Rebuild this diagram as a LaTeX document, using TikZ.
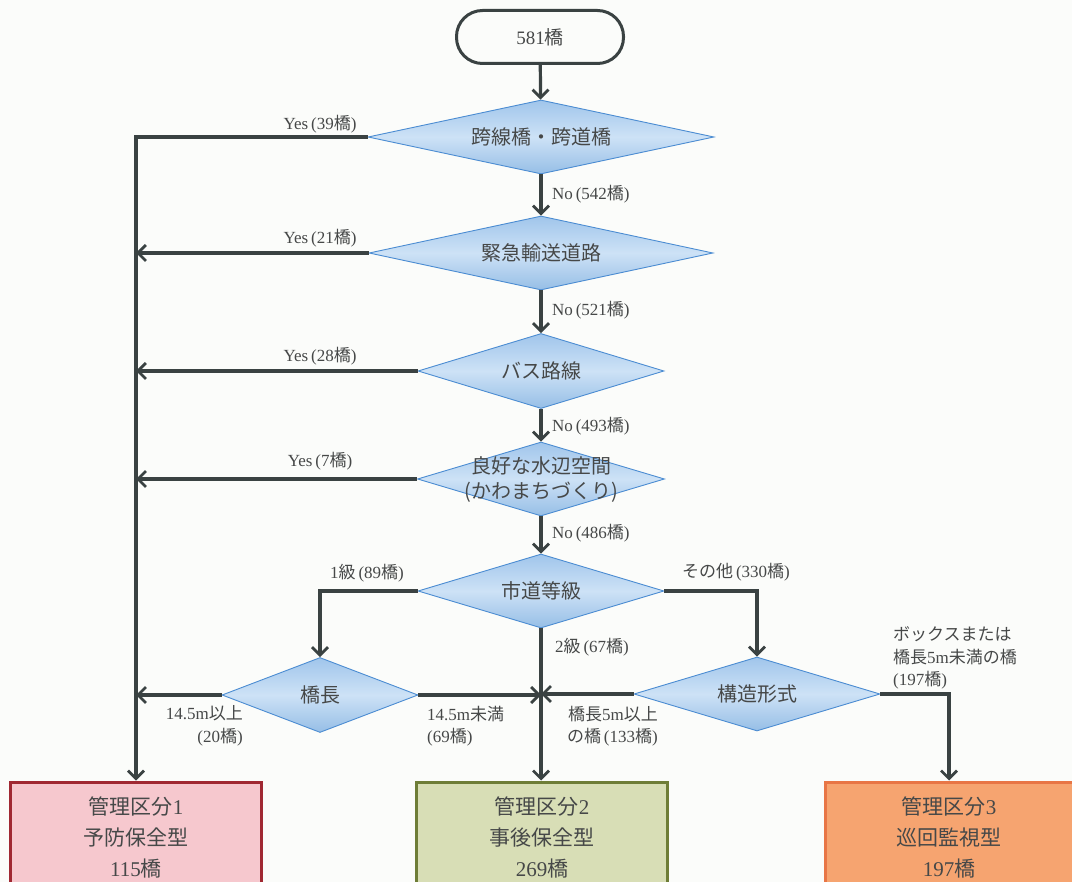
\documentclass[tikz,border=0pt]{standalone}
\usepackage{fontspec}
\setmainfont{Liberation Serif}
\newfontfamily\jp{Noto Sans CJK JP}
\newcommand\J[1]{{\jp #1}}
\usetikzlibrary{arrows.meta,shapes.geometric,calc}
\definecolor{ln}{RGB}{58,66,66}
\definecolor{dborder}{RGB}{75,140,210}
\definecolor{dtop}{RGB}{160,197,235}
\definecolor{dmid}{RGB}{205,226,246}
\definecolor{dbot}{RGB}{150,190,230}
\definecolor{bg}{RGB}{251,252,250}
\definecolor{txt}{RGB}{70,72,72}
\definecolor{p1f}{RGB}{246,200,206}
\definecolor{p1d}{RGB}{160,40,50}
\definecolor{p2f}{RGB}{216,222,182}
\definecolor{p2d}{RGB}{110,125,55}
\definecolor{p3f}{RGB}{246,164,112}
\definecolor{p3d}{RGB}{232,118,70}
\tikzset{
  dia/.style={diamond, draw=dborder, line width=0.9pt, top color=dtop, bottom color=dbot, middle color=dmid, inner sep=0pt},
  dtext/.style={font=\jp\fontsize{20}{25}\selectfont, align=center, text=txt},
  conn/.style={draw=ln, line width=3.2pt},
  arr/.style={conn, -{Straight Barb[length=8pt,width=16pt,line width=2.8pt]}},
  lbl/.style={font=\fontsize{17}{22.5}\selectfont, text=txt, inner sep=0pt},
  outbox/.style={draw=#1, line width=3pt, minimum width=251pt, minimum height=110pt, inner sep=0pt, font=\fontsize{21}{31}\selectfont, align=center, text=txt},
}
\begin{document}
\begin{tikzpicture}[x=1pt,y=-1pt]
\useasboundingbox (0,0) rectangle (1072,882);
\fill[bg] (0,0) rectangle (1072,882);

\node[draw=ln, line width=3pt, rounded corners=26pt, minimum width=167pt, minimum height=53pt, font=\fontsize{19}{22}\selectfont, text=txt] (start) at (540,37) {581\J{橋}};

\node[dia, minimum width=346pt, minimum height=74pt] (d1) at (541,137) {};
\node[dtext] (t1) at (d1.center) {跨線橋・跨道橋};
\node[dia, minimum width=344pt, minimum height=74pt] (d2) at (541,253) {};
\node[dtext] (t2) at (d2.center) {緊急輸送道路};
\node[dia, minimum width=246pt, minimum height=75pt] (d3) at (541,371) {};
\node[dtext] (t3) at (d3.center) {バス路線};
\node[dia, minimum width=247pt, minimum height=74pt] (d4) at (541,479) {};
\node[dtext] (t4) at (541,480) {良好な水辺空間\\(かわまちづくり)};
\node[dia, minimum width=246pt, minimum height=74pt] (d5) at (541,591) {};
\node[dtext] (t5) at (d5.center) {市道等級};
\node[dia, minimum width=196pt, minimum height=75pt] (d6) at (320,695) {};
\node[dtext] (t6) at (d6.center) {橋長};
\node[dia, minimum width=246pt, minimum height=74pt] (d7) at (757,694) {};
\node[dtext] (t7) at (d7.center) {構造形式};

\node[outbox=p1d, fill=p1f] (b1) at (136,837) {\J{管理区分}1\\\J{予防保全型}\\115\J{橋}};
\node[outbox=p2d, fill=p2f] (b2) at (542,837) {\J{管理区分}2\\\J{事後保全型}\\269\J{橋}};
\node[outbox=p3d, fill=p3f, minimum width=248pt] (b3) at (949,837) {\J{管理区分}3\\\J{巡回監視型}\\197\J{橋}};

% main spine
\draw[arr] (start) -- (d1);
\draw[arr] (d1) -- (d2);
\draw[arr] (d2) -- (d3);
\draw[arr] (d3) -- (d4);
\draw[arr] (d4) -- (d5);
\draw[arr] (d5.south) -- (b2.north -| d5.south);

% yes branches
\draw[arr] (d1.west) -- (d1.west -| b1.north) -- (b1.north);
\draw[arr] (d2.west) -- (d2.west -| b1.north);
\draw[arr] (d3.west) -- (d3.west -| b1.north);
\draw[arr] (d4.west) -- (d4.west -| b1.north);

% grade branches
\draw[arr] (d5.west) -- (d5.west -| d6.north) -- (d6.north);
\draw[arr] (d5.east) -- (d5.east -| d7.north) -- (d7.north);
\draw[arr] (d6.west) -- (d6.west -| b1.north);
\draw[arr] (d6.east) -- (d6.east -| d5.south);
\draw[arr] (d7.west) -- (d7.west -| d5.south);
\draw[arr] (d7.east) -- (d7.east -| b3.north) -- (b3.north);

% labels
\node[lbl] (l1) at (320,124) {Yes\,(39\J{橋})};
\node[lbl] (l2) at (320,238) {Yes\,(21\J{橋})};
\node[lbl] (l3) at (320,356) {Yes\,(28\J{橋})};
\node[lbl] (l4) at (320,461) {Yes\,(7\J{橋})};
\node[lbl, anchor=west] (n1) at (552,194) {No\,(542\J{橋})};
\node[lbl, anchor=west] (n2) at (552,310) {No\,(521\J{橋})};
\node[lbl, anchor=west] (n3) at (552,426) {No\,(493\J{橋})};
\node[lbl, anchor=west] (n4) at (552,533) {No\,(486\J{橋})};
\node[lbl] (g1) at (367,573) {1\J{級}\,(89\J{橋})};
\node[lbl, anchor=west] (g3) at (682,572) {\J{その他}\,(330\J{橋})};
\node[lbl, anchor=west] (g2) at (555,647) {2\J{級}\,(67\J{橋})};
\node[lbl, align=right, anchor=east] (h1) at (243,726) {14.5m\J{以上}\\(20\J{橋})};
\node[lbl, align=left, anchor=west] (h2) at (427,726) {14.5m\J{未満}\\(69\J{橋})};
\node[lbl, align=right, anchor=east] (k1) at (658,726) {\J{橋長}5m\J{以上}\\\J{の橋}\,(133\J{橋})};
\node[lbl, align=left, anchor=west] (k2) at (893,658) {\J{ボックスまたは}\\\J{橋長}5m\J{未満の橋}\\(197\J{橋})};
\end{tikzpicture}
\end{document}
